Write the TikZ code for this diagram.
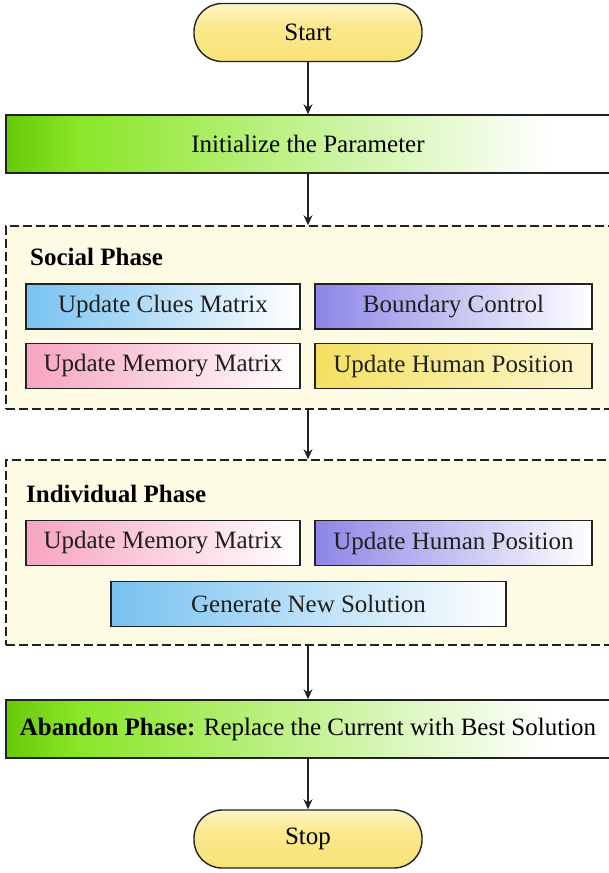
\documentclass[tikz,border=0pt]{standalone}
\usepackage{fontspec}
\setmainfont{Liberation Serif}
\usetikzlibrary{arrows.meta}
\definecolor{gA}{RGB}{104,200,10}
\definecolor{gB}{RGB}{138,230,40}
\definecolor{gC}{RGB}{214,246,180}
\definecolor{yT}{RGB}{253,244,196}
\definecolor{yM}{RGB}{250,232,140}
\definecolor{yB}{RGB}{248,226,120}
\definecolor{phasebg}{RGB}{254,251,228}
\definecolor{edge}{RGB}{34,34,34}
\definecolor{bluec}{RGB}{120,194,240}
\definecolor{purc}{RGB}{140,134,230}
\definecolor{pinkc}{RGB}{246,164,194}
\definecolor{yelc}{RGB}{244,224,96}
\definecolor{yelr}{RGB}{252,246,206}
\pgfdeclarehorizontalshading{greenbar}{100bp}{color(0bp)=(gA); color(25bp)=(gA); color(31bp)=(gB); color(56bp)=(gC); color(70bp)=(white); color(100bp)=(white)}
\pgfdeclareverticalshading{termshade}{100bp}{color(0bp)=(yB); color(25bp)=(yB); color(55bp)=(yM); color(75bp)=(yT); color(100bp)=(yT)}
\tikzset{
  term/.style={draw=edge, line width=1.4pt, rounded corners=28pt, shading=termshade,
    minimum width=228pt, minimum height=58pt, inner sep=0pt},
  bar/.style={draw=edge, line width=1.6pt, shading=greenbar,
    minimum width=604pt, minimum height=58pt, inner sep=0pt},
  phase/.style={draw=edge, line width=1.5pt, dash pattern=on 9pt off 4pt, fill=phasebg,
    minimum width=604pt, inner sep=0pt},
  subbox/.style={draw=edge, line width=1.3pt, minimum height=45pt, inner sep=0pt, text=black!88},
  shadeL/.style={left color=#1, middle color=#1!55!white, right color=white},
  conn/.style={draw=edge, line width=1.2pt, -{Stealth[length=10pt,width=9pt]}},
  ptitle/.style={anchor=west, inner sep=0pt, font=\fontsize{25}{30}\selectfont\bfseries}
}
\begin{document}
\begin{tikzpicture}[x=1pt,y=-1pt,font=\fontsize{25}{30}\selectfont]
\useasboundingbox (0,0) rectangle (608,873);
% terminals and bars
\node[term] (start) at (308,32.5) {Start};
\node[bar] (init) at (308,144) {Initialize the Parameter};
% social phase
\node[phase, minimum height=183pt] (social) at (308,317.5) {};
\node[ptitle] (stitle) at (30,257) {Social Phase};
\node[subbox, shadeL=bluec, minimum width=274pt] (clues) at (163,306.5) {Update Clues Matrix};
\node[subbox, shadeL=purc, minimum width=277pt] (bound) at (453.5,306.5) {Boundary Control};
\node[subbox, shadeL=pinkc, minimum width=274pt] (mem1) at (163,366) {Update Memory Matrix};
\node[subbox, left color=yelc, right color=yelr, minimum width=277pt] (hum1) at (453.5,366) {Update Human Position};
% individual phase
\node[phase, minimum height=185pt] (indiv) at (308,552.5) {};
\node[ptitle] (ititle) at (26,494) {Individual Phase};
\node[subbox, shadeL=pinkc, minimum width=274pt] (mem2) at (163,543) {Update Memory Matrix};
\node[subbox, shadeL=purc, minimum width=277pt] (hum2) at (453.5,543) {Update Human Position};
\node[subbox, shadeL=bluec, minimum width=395pt] (gen) at (308.5,604) {Generate New Solution};
% abandon and stop
\node[bar] (aband) at (308,729) {\textbf{Abandon Phase:} Replace the Current with Best Solution};
\node[term] (stop) at (308,839) {Stop};
% connectors
\draw[conn] (start.south) -- (init.north);
\draw[conn] (init.south) -- (social.north);
\draw[conn] (social.south) -- (indiv.north);
\draw[conn] (indiv.south) -- (aband.north);
\draw[conn] (aband.south) -- (stop.north);
\end{tikzpicture}
\end{document}
